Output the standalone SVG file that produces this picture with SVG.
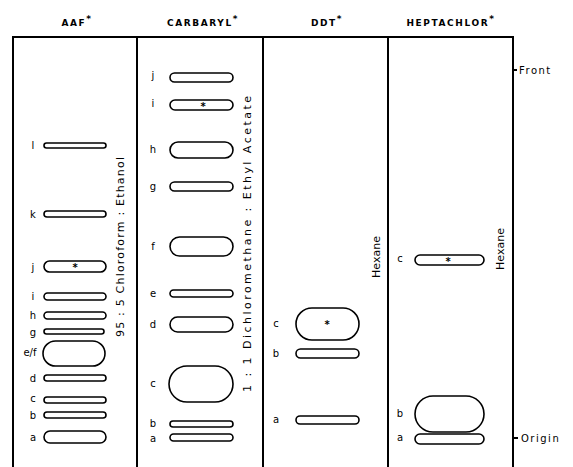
<svg xmlns="http://www.w3.org/2000/svg" width="573" height="467" viewBox="0 0 573 467">
<style>
.frame{fill:none;stroke:#000;stroke-width:2}
.spot{fill:#fff;stroke:#000;stroke-width:1.6}
.hdr{font-family:"DejaVu Sans","Liberation Sans",sans-serif;font-weight:bold;font-size:9px;letter-spacing:1.6px;text-anchor:middle;fill:#000}
.sup{font-family:"DejaVu Sans",sans-serif;font-weight:bold;font-size:9px;fill:#000}
.lbl{font-family:"DejaVu Sans","Liberation Sans",sans-serif;font-size:10px;text-anchor:middle;fill:#000}
.vt{font-family:"DejaVu Sans","Liberation Sans",sans-serif;font-size:11px;text-anchor:middle;fill:#000}
.side{font-family:"DejaVu Sans","Liberation Sans",sans-serif;font-size:10px;letter-spacing:1.5px;fill:#000}
.ast{font-family:"DejaVu Sans",sans-serif;font-weight:bold;font-size:10px;text-anchor:middle;fill:#000}
</style>
<rect width="573" height="467" fill="#fff"/>
<g id="headers">
<text class="hdr" x="77" y="26">AAF<tspan class="sup" dy="-4">*</tspan></text>
<text class="hdr" x="203" y="26">CARBARYL<tspan class="sup" dy="-4">*</tspan></text>
<text class="hdr" x="327" y="26">DDT<tspan class="sup" dy="-4">*</tspan></text>
<text class="hdr" x="451" y="26">HEPTACHLOR<tspan class="sup" dy="-4">*</tspan></text>
</g>
<g id="plate">
<path class="frame" d="M13,467 V37 H513 V467 M137,37 V467 M263,37 V467 M388,37 V467"/>
<path class="frame" stroke-width="1" d="M513,70 H517 M513,438 H518"/>
<text class="side" x="519" y="74">Front</text>
<text class="side" x="521" y="442">Origin</text>
</g>
<g id="col-aaf">
<text class="vt" transform="translate(124,247) rotate(-90)" textLength="180" lengthAdjust="spacing">95 : 5  Chloroform : Ethanol</text>
<text class="lbl" x="33" y="149">l</text><rect class="spot" x="44" y="143" width="62" height="5" rx="2.5"/>
<text class="lbl" x="33" y="218">k</text><rect class="spot" x="44" y="211" width="62" height="6" rx="3"/>
<text class="lbl" x="33" y="271">j</text><rect class="spot" x="44" y="261" width="62" height="11" rx="5.5"/><text class="ast" x="75" y="271">*</text>
<text class="lbl" x="33" y="300">i</text><rect class="spot" x="44" y="293" width="62" height="7" rx="3.5"/>
<text class="lbl" x="33" y="319">h</text><rect class="spot" x="44" y="312" width="62" height="7" rx="3.5"/>
<text class="lbl" x="33" y="336">g</text><rect class="spot" x="44" y="329" width="60" height="5" rx="2.5"/>
<text class="lbl" x="30" y="356">e/f</text><rect class="spot" x="43" y="341" width="62" height="25" rx="12.5"/>
<text class="lbl" x="33" y="382">d</text><rect class="spot" x="44" y="375" width="62" height="6" rx="3"/>
<text class="lbl" x="33" y="402">c</text><rect class="spot" x="44" y="397" width="62" height="6" rx="3"/>
<text class="lbl" x="33" y="419">b</text><rect class="spot" x="44" y="412" width="62" height="6" rx="3"/>
<text class="lbl" x="33" y="441">a</text><rect class="spot" x="44" y="431" width="62" height="12" rx="6"/>
</g>
<g id="col-carbaryl">
<text class="vt" transform="translate(251,244) rotate(-90)" textLength="296" lengthAdjust="spacing">1 : 1  Dichloromethane : Ethyl  Acetate</text>
<text class="lbl" x="153" y="79">j</text><rect class="spot" x="170" y="73" width="63" height="9" rx="4.5"/>
<text class="lbl" x="153" y="107">i</text><rect class="spot" x="170" y="100" width="63" height="10" rx="5"/><text class="ast" x="203" y="110">*</text>
<text class="lbl" x="153" y="153">h</text><rect class="spot" x="170" y="142" width="63" height="16" rx="8"/>
<text class="lbl" x="153" y="190">g</text><rect class="spot" x="170" y="182" width="63" height="9" rx="4.5"/>
<text class="lbl" x="153" y="250">f</text><rect class="spot" x="170" y="237" width="63" height="19" rx="9.5"/>
<text class="lbl" x="153" y="297">e</text><rect class="spot" x="170" y="290" width="63" height="7" rx="3.5"/>
<text class="lbl" x="153" y="328">d</text><rect class="spot" x="170" y="317" width="63" height="15" rx="7.5"/>
<text class="lbl" x="153" y="387">c</text><rect class="spot" x="169" y="366" width="64" height="36" rx="18"/>
<text class="lbl" x="153" y="427">b</text><rect class="spot" x="170" y="421" width="63" height="6" rx="3"/>
<text class="lbl" x="153" y="442">a</text><rect class="spot" x="170" y="434" width="63" height="7" rx="3.5"/>
</g>
<g id="col-ddt">
<text class="vt" transform="translate(380,257) rotate(-90)">Hexane</text>
<text class="lbl" x="276" y="327">c</text><rect class="spot" x="296" y="308" width="63" height="32" rx="16"/><text class="ast" x="327" y="328">*</text>
<text class="lbl" x="276" y="357">b</text><rect class="spot" x="296" y="349" width="63" height="9" rx="4.5"/>
<text class="lbl" x="276" y="423">a</text><rect class="spot" x="296" y="416" width="63" height="8" rx="4"/>
</g>
<g id="col-heptachlor">
<text class="vt" transform="translate(504,249) rotate(-90)">Hexane</text>
<text class="lbl" x="400" y="262">c</text><rect class="spot" x="415" y="255" width="69" height="10" rx="5"/><text class="ast" x="448" y="265">*</text>
<text class="lbl" x="400" y="417">b</text><rect class="spot" x="415" y="396" width="69" height="36" rx="18"/>
<text class="lbl" x="400" y="441">a</text><rect class="spot" x="415" y="434" width="69" height="10" rx="5"/>
</g>
</svg>
